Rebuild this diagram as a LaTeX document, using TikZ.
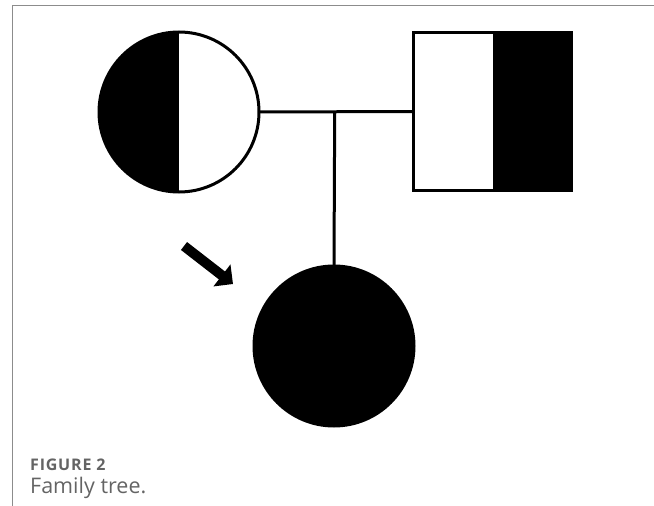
\documentclass[tikz,border=0pt]{standalone}
\usepackage{fontspec}
\setmainfont{Open Sans}
\usepackage{xcolor}
\usepackage{tikz}
\usetikzlibrary{arrows.meta, calc, positioning}
\definecolor{framegray}{RGB}{140, 140, 140}
\definecolor{capgray}{RGB}{100, 100, 100}

\begin{document}
\begin{tikzpicture}[x=1pt, y=-1pt,
    person/.style={draw, line width=3pt, inner sep=0pt, outer sep=0pt},
    female/.style={person, circle, minimum size=160pt},
    male/.style={person, rectangle, minimum size=158pt},
    lefthalf/.style={path picture={\fill (path picture bounding box.south west) rectangle (path picture bounding box.north);}},
    righthalf/.style={path picture={\fill (path picture bounding box.south) rectangle (path picture bounding box.north east);}},
    link/.style={line width=3pt}]
    \useasboundingbox (0,0) rectangle (654,506);
    % Draw Frame
    \draw[framegray, thin] (12,506) -- (12,5) -- (654,5);

    % Parents
    \node[female, lefthalf] (mother) at (179,112) {};
    \node[male, righthalf] (father) at (492.5,111.5) {};
    \draw[link] (mother.east) -- (father.west);
    \coordinate (sibship) at ($(mother.east)!0.49!(father.west)$);

    % Proband (daughter)
    \node[female, fill] (daughter) at (334,346) {};
    \draw[link] (sibship) -- (daughter.north);

    % Mark the proband
    \coordinate (tail) at (184,246);
    \coordinate (tip) at (233,284);
    \draw[line width=10pt, -{Triangle[length=14pt, width=27pt]}] (tail) -- (tip);

    % Caption
    \node[anchor=base west, inner sep=0pt, capgray, font=\fontsize{16}{18}\selectfont\bfseries\addfontfeatures{LetterSpace=5}] (figlabel) at (30,470) {FIGURE 2};
    \node[anchor=base west, inner sep=0pt, capgray, font=\fontsize{21.5}{25}\selectfont] (figtitle) at (30,493) {Family tree.};
\end{tikzpicture}
\end{document}
